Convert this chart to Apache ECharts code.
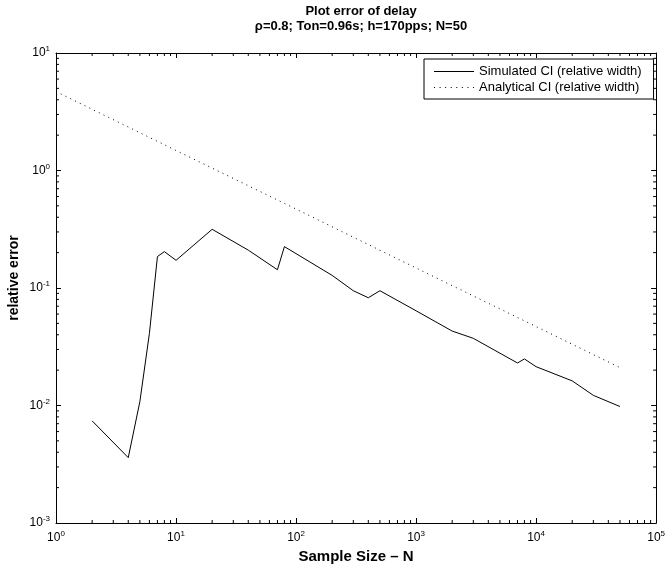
<!DOCTYPE html>
<html>
<head>
<meta charset="utf-8">
<script src="https://cdn.jsdelivr.net/npm/echarts@6/dist/echarts.min.js"></script>
<style>
  html, body { margin: 0; padding: 0; background: #fff; }
  #chart { width: 668px; height: 570px; }
</style>
</head>
<body>
<div id="chart"></div>
<script>
// Sample sizes and relative CI widths
const simN = [2, 4, 5, 6, 7, 8, 10, 20, 40, 70, 80, 200, 300, 400, 500, 1000, 2000, 3000, 7000, 8000, 10000, 20000, 30000, 50000];
const simErr = [0.0074, 0.0036, 0.0108, 0.041, 0.185, 0.204, 0.172, 0.316, 0.21, 0.143, 0.225, 0.128, 0.0948, 0.0826, 0.0948, 0.064, 0.043, 0.0373, 0.023, 0.0249, 0.0214, 0.0162, 0.0122, 0.0098];
const anaN = [1, 10, 100, 1000, 10000, 50000];
const anaErr = [4.7, 1.48, 0.47, 0.148, 0.047, 0.021];

const seriesNames = ['Simulated CI (relative width)', 'Analytical CI (relative width)'];
const titleText = 'Plot error of delay';
const subtitleText = 'ρ=0.8; Ton=0.96s; h=170pps; N=50';
const xName = 'Sample Size – N';
const yName = 'relative error';

const xRange = [1, 1e5];
const yRange = [1e-3, 10];

// minor tick values (2..9 per decade)
function minorTicks(lo, hi) {
  const out = [];
  for (let e = Math.round(Math.log10(lo)); e < Math.round(Math.log10(hi)); e++) {
    for (let m = 2; m <= 9; m++) out.push(m * Math.pow(10, e));
  }
  return out;
}
const xMinor = minorTicks(xRange[0], xRange[1]);
const yMinor = minorTicks(yRange[0], yRange[1]);

const FONT = '"Liberation Sans", Arial, Helvetica, sans-serif';

function powLabel(v) {
  const e = Math.round(Math.log10(v));
  return '{b|10}{s|' + e + '}';
}
const labelRich = {
  b: { fontSize: 12, fontFamily: FONT, color: '#000', lineHeight: 16 },
  s: { fontSize: 8, fontFamily: FONT, color: '#000', verticalAlign: 'top', lineHeight: 10, padding: [0, 0, 3, 0] }
};

// legend glyphs: a solid 1px stroke and a row of 1px dots
const solidIcon = 'path://M0,0H40V1H0Z';
let dotted = 'path://';
for (let i = 0; i < 8; i++) {
  const x0 = i * 5.57;
  dotted += 'M' + x0 + ',0h1v1h-1z';
}
const dottedIcon = dotted;

const MAJOR = 5, MINOR = 3;

function axisCommon(extra) {
  return Object.assign({
    type: 'log',
    logBase: 10,
    axisLine: { show: true, onZero: false, lineStyle: { color: '#000', width: 1 } },
    axisTick: { show: true, inside: true, length: MAJOR, lineStyle: { color: '#000', width: 1 } },
    splitLine: { show: false },
    minorTick: { show: false },
    minorSplitLine: { show: false }
  }, extra);
}

const chart = echarts.init(document.getElementById('chart'), null, { renderer: 'canvas' });

const option = {
  backgroundColor: '#fff',
  animation: false,
  textStyle: { fontFamily: FONT },
  title: {
    text: titleText,
    subtext: subtitleText,
    left: 356,
    textAlign: 'center',
    top: 0,
    itemGap: 2,
    textStyle: { fontSize: 13, fontWeight: 'bold', color: '#000', fontFamily: FONT },
    subtextStyle: { fontSize: 13, fontWeight: 'bold', color: '#000', fontFamily: FONT }
  },
  legend: {
    data: [
      { name: seriesNames[0], icon: solidIcon },
      { name: seriesNames[1], icon: dottedIcon }
    ],
    orient: 'vertical',
    left: 424,
    top: 59,
    align: 'left',
    itemWidth: 40,
    itemHeight: 15,
    itemGap: 3,
    padding: [6, 12, 5, 10],
    borderColor: '#000',
    borderWidth: 1,
    borderRadius: 0,
    backgroundColor: '#fff',
    itemStyle: { color: '#000', borderWidth: 0 },
    textStyle: { fontSize: 13, color: '#000', fontFamily: FONT },
    selectedMode: false
  },
  grid: { left: 56, right: 11, top: 53, bottom: 47, containLabel: false },
  xAxis: [
    axisCommon({
      position: 'bottom', min: xRange[0], max: xRange[1],
      axisLabel: { formatter: powLabel, rich: labelRich, margin: 7 },
      name: xName, nameLocation: 'middle', nameGap: 25,
      nameTextStyle: { fontSize: 15, fontWeight: 'bold', color: '#000', fontFamily: FONT }
    }),
    axisCommon({
      position: 'top', min: xRange[0], max: xRange[1],
      axisLabel: { show: false }
    })
  ],
  yAxis: [
    axisCommon({
      position: 'left', min: yRange[0], max: yRange[1],
      axisLabel: { formatter: powLabel, rich: labelRich, margin: 6 }
    }),
    axisCommon({
      position: 'right', min: yRange[0], max: yRange[1],
      axisLabel: { show: false }
    })
  ],
  graphic: [{
    type: 'text',
    x: 14, y: 278, rotation: Math.PI / 2,
    style: {
      text: yName, fill: '#000', font: 'bold 14px ' + FONT,
      align: 'center', verticalAlign: 'middle'
    }
  }],
  series: [
    {
      name: seriesNames[0],
      type: 'line',
      xAxisIndex: 0, yAxisIndex: 0,
      data: simN.map((n, i) => [n, simErr[i]]),
      showSymbol: false, symbol: 'none',
      lineStyle: { color: '#000', width: 1, type: 'solid' },
      itemStyle: { color: '#000' },
      z: 5
    },
    {
      name: seriesNames[1],
      type: 'line',
      xAxisIndex: 0, yAxisIndex: 0,
      data: anaN.map((n, i) => [n, anaErr[i]]),
      showSymbol: false, symbol: 'none',
      lineStyle: { color: '#000', width: 1, type: [1, 4.3] },
      itemStyle: { color: '#000' },
      z: 4
    },
    {
      // minor ticks on bottom and top axes
      type: 'custom',
      xAxisIndex: 0, yAxisIndex: 0,
      silent: true,
      data: xMinor.map(v => [v, 1]),
      renderItem: function (params, api) {
        const v = api.value(0);
        const pb = api.coord([v, yRange[0]]);
        const pt = api.coord([v, yRange[1]]);
        const st = { stroke: '#000', lineWidth: 1 };
        return {
          type: 'group',
          children: [
            { type: 'line', shape: { x1: pb[0], y1: pb[1], x2: pb[0], y2: pb[1] - MINOR }, style: st },
            { type: 'line', shape: { x1: pt[0], y1: pt[1], x2: pt[0], y2: pt[1] + MINOR }, style: st }
          ]
        };
      },
      z: 6
    },
    {
      // minor ticks on left and right axes
      type: 'custom',
      xAxisIndex: 0, yAxisIndex: 0,
      silent: true,
      data: yMinor.map(v => [1, v]),
      renderItem: function (params, api) {
        const v = api.value(1);
        const pl = api.coord([xRange[0], v]);
        const pr = api.coord([xRange[1], v]);
        const st = { stroke: '#000', lineWidth: 1 };
        return {
          type: 'group',
          children: [
            { type: 'line', shape: { x1: pl[0], y1: pl[1], x2: pl[0] + MINOR, y2: pl[1] }, style: st },
            { type: 'line', shape: { x1: pr[0], y1: pr[1], x2: pr[0] - MINOR, y2: pr[1] }, style: st }
          ]
        };
      },
      z: 6
    }
  ]
};

chart.setOption(option);
</script>
</body>
</html>
